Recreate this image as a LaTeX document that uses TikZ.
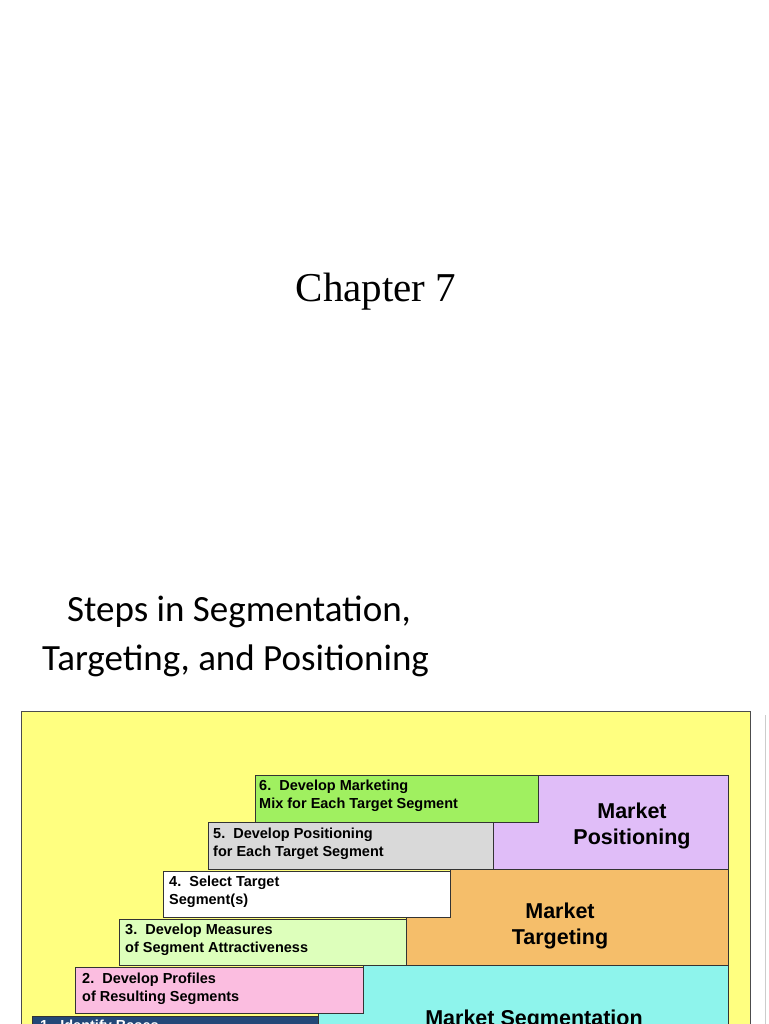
\documentclass[tikz,border=0pt]{standalone}
\usepackage{fontspec}
\setmainfont{Liberation Serif}
\newfontfamily\arialfam{Liberation Sans}
\newfontfamily\carlitofam{Carlito}
\definecolor{bgy}{HTML}{FFFF80}
\definecolor{c6}{HTML}{A0F060}
\definecolor{c5}{HTML}{D9D9D9}
\definecolor{c3}{HTML}{DDFFBB}
\definecolor{c2}{HTML}{FBBDE0}
\definecolor{c1}{HTML}{234878}
\definecolor{cpos}{HTML}{E0BDF8}
\definecolor{ctar}{HTML}{F5BE6A}
\definecolor{cseg}{HTML}{8EF4EC}
\tikzset{stepbox/.style={draw=black!80,line width=0.8pt},
 steptext/.style={anchor=north west,font=\arialfam\bfseries\fontsize{14.5}{18}\selectfont,align=left,inner sep=0pt},
 bigtext/.style={font=\arialfam\bfseries\fontsize{21.5}{26}\selectfont,align=center}}
\begin{document}
\begin{tikzpicture}[x=1pt,y=-1pt]
\useasboundingbox (0,0) rectangle (768,1024);
\clip (0,0) rectangle (768,1024);
\fill[white] (0,0) rectangle (768,1024);
\node[font=\fontsize{41}{48}\selectfont] (ch) at (376,292) {Chapter 7};
\node[font=\carlitofam\fontsize{37}{49}\selectfont,align=left,anchor=north west,inner sep=0pt] (ti) at (42,596) {\hspace*{25pt}Steps in Segmentation,\\Targeting, and Positioning};
\draw[fill=bgy,draw=black!70] (21,711) rectangle (750,1030);
\draw[black!20] (765,715) -- (765,1030);
\draw[stepbox,fill=cpos] (538,775) -- (728,775) -- (728,869) -- (493,869) -- (493,822) -- (538,822) -- cycle;
\draw[stepbox,fill=ctar] (450,869) -- (728,869) -- (728,965) -- (406,965) -- (406,917) -- (450,917) -- cycle;
\draw[stepbox,fill=cseg] (363,965) -- (728,965) -- (728,1040) -- (318,1040) -- (318,1013) -- (363,1013) -- cycle;
\draw[stepbox,fill=c6] (255,775) rectangle (538,822);
\draw[stepbox,fill=c5] (208,822) rectangle (493,869);
\draw[stepbox,fill=white] (163,871) rectangle (450,917);
\draw[stepbox,fill=c3] (119,919) rectangle (406,965);
\draw[stepbox,fill=c2] (75,967) rectangle (363,1013);
\draw[stepbox,fill=c1] (32,1016) rectangle (318,1040);
\node[steptext] (t6) at (259,780) {6.\ \ Develop Marketing\\Mix for Each Target Segment};
\node[steptext] (t5) at (213,828) {5.\ \ Develop Positioning\\for Each Target Segment};
\node[steptext] (t4) at (169,876) {4.\ \ Select Target\\Segment(s)};
\node[steptext] (t3) at (125,924) {3.\ \ Develop Measures\\of Segment Attractiveness};
\node[steptext] (t2) at (82,973) {2.\ \ Develop Profiles\\of Resulting Segments};
\node[steptext,text=white] (t1) at (40,1020) {1.\ \ Identify Bases};
\node[bigtext] (mp) at (632,826) {Market\\Positioning};
\node[bigtext] (mt) at (560,926) {Market\\Targeting};
\node[bigtext,anchor=north] (ms) at (534,1006) {Market Segmentation};
\end{tikzpicture}
\end{document}
